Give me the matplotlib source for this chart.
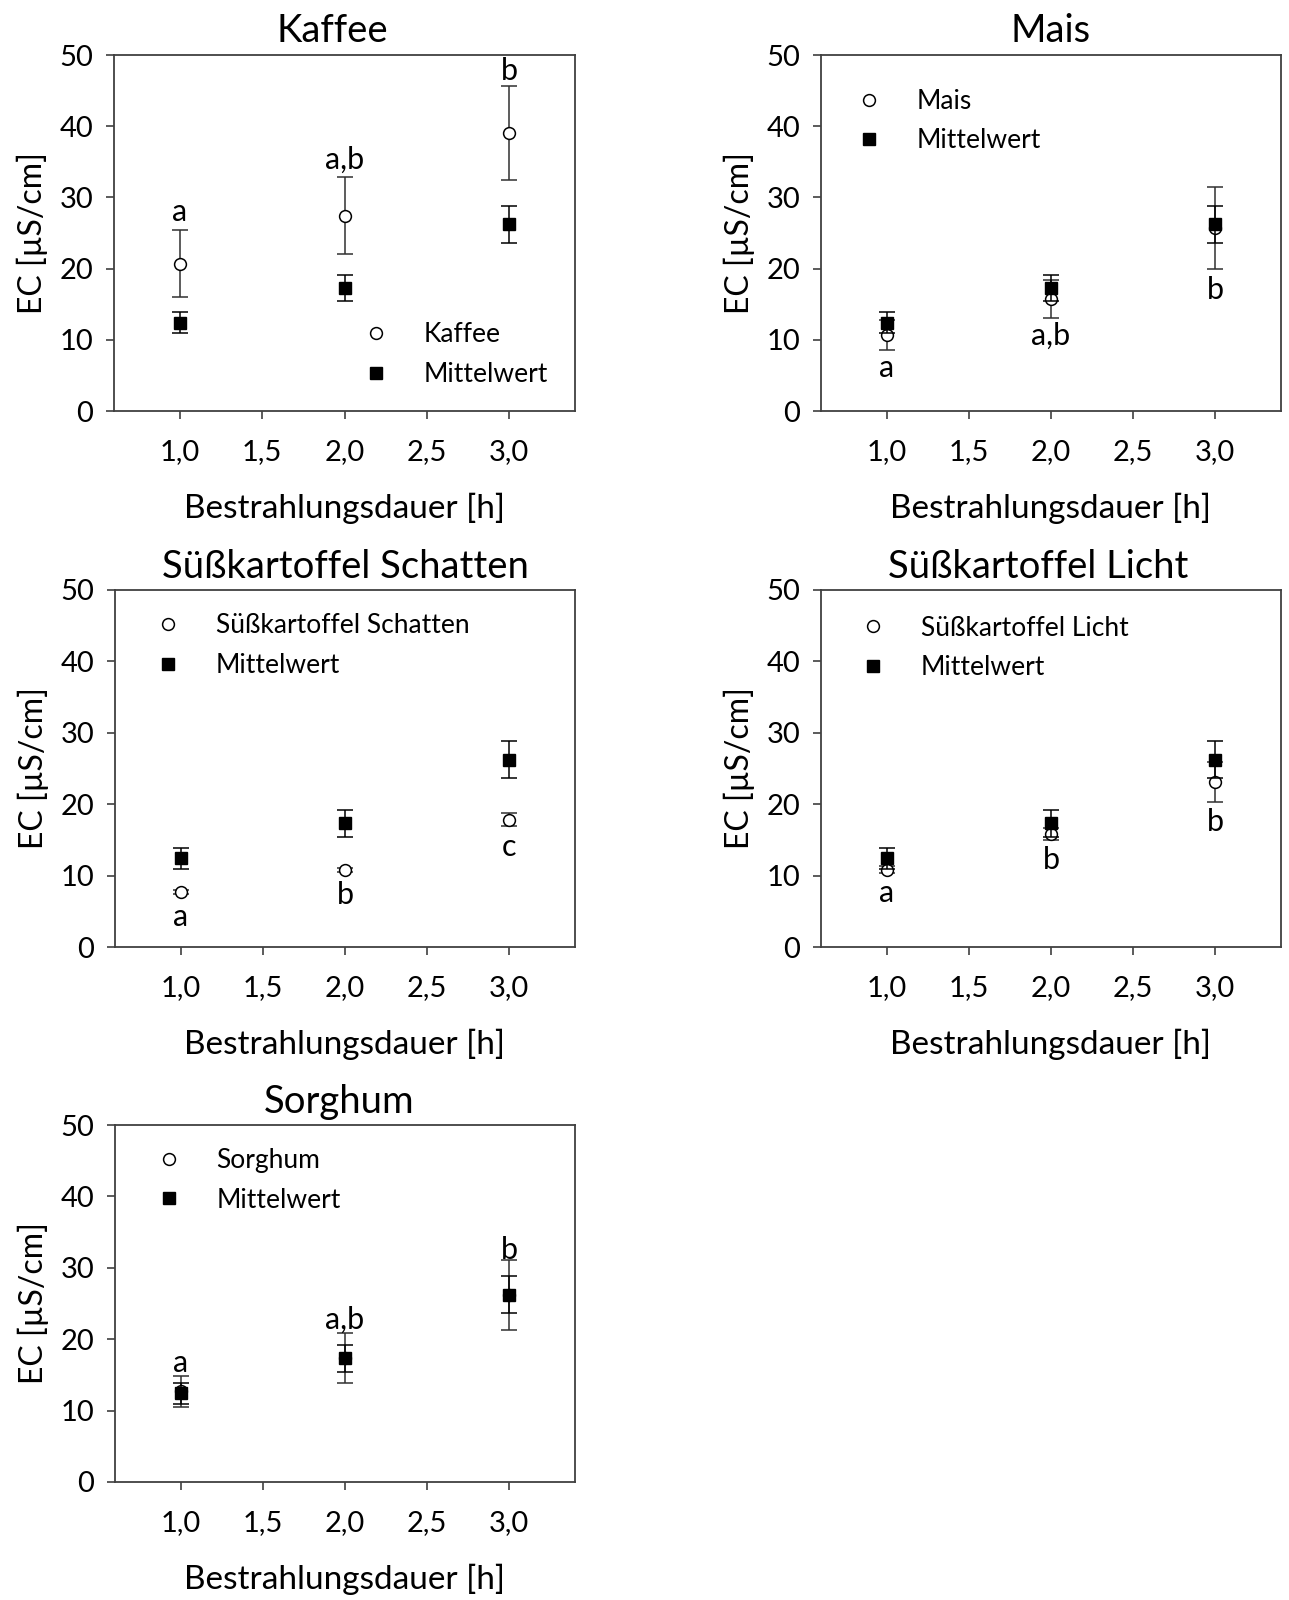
import matplotlib
matplotlib.use("Agg")
import matplotlib.pyplot as plt

plt.rcParams['font.family'] = ['Lato', 'DejaVu Sans']

# --- data ---
hours = [1.0, 2.0, 3.0]

mean_vals = [12.4, 17.3, 26.2]
mean_err = [1.5, 1.85, 2.6]

kaffee = [20.7, 27.4, 39.1]
kaffee_err = [4.7, 5.4, 6.6]
kaffee_letters = ["a", "a,b", "b"]
kaffee_letter_y = [28.0, 35.3, 47.7]

mais = [10.7, 15.7, 25.7]
mais_err = [2.1, 2.7, 5.8]
mais_letters = ["a", "a,b", "b"]
mais_letter_y = [6.0, 10.5, 17.0]

schatten = [7.7, 10.8, 17.8]
schatten_err = [0.3, 0.3, 0.9]
schatten_letters = ["a", "b", "c"]
schatten_letter_y = [4.2, 7.25, 14.0]

licht = [10.8, 15.8, 23.1]
licht_err = [0.5, 0.8, 2.8]
licht_letters = ["a", "b", "b"]
licht_letter_y = [7.5, 12.2, 17.5]

sorghum = [12.7, 17.4, 26.2]
sorghum_err = [2.2, 3.5, 4.9]
sorghum_letters = ["a", "a,b", "b"]
sorghum_letter_y = [16.6, 22.7, 32.5]

x_ticks = [1.0, 1.5, 2.0, 2.5, 3.0]
x_ticklabels = ["1,0", "1,5", "2,0", "2,5", "3,0"]
y_ticks = [0, 10, 20, 30, 40, 50]

W, H = 1289, 1600
fig = plt.figure(figsize=(W / 100, H / 100), dpi=100)

# axes boxes in pixels: left, top, right, bottom
boxes = {
    "Kaffee": (114, 55, 575, 411),
    "Mais": (821, 55, 1281, 411),
    "Süßkartoffel Schatten": (115, 590, 575, 947),
    "Süßkartoffel Licht": (821, 590, 1281, 947),
    "Sorghum": (115, 1125, 575, 1482),
}

# name, values, errors, letters, letter y, legend anchor (axes frac), title x
panels = [
    ("Kaffee", kaffee, kaffee_err, kaffee_letters, kaffee_letter_y, (0.566, 0.158), 0.474),
    ("Mais", mais, mais_err, mais_letters, mais_letter_y, (0.102, 0.814), 0.5),
    ("Süßkartoffel Schatten", schatten, schatten_err, schatten_letters, schatten_letter_y, (0.113, 0.844), 0.5),
    ("Süßkartoffel Licht", licht, licht_err, licht_letters, licht_letter_y, (0.111, 0.838), 0.472),
    ("Sorghum", sorghum, sorghum_err, sorghum_letters, sorghum_letter_y, (0.115, 0.845), 0.487),
]

spine_col = "#404040"

for name, vals, errs, letters, letter_y, leg_pos, title_x in panels:
    l, t, r, b = boxes[name]
    ax = fig.add_axes([l / W, 1 - b / H, (r - l) / W, (b - t) / H])

    eb1 = ax.errorbar(hours, vals, yerr=errs, fmt="o", ms=8.5, mfc="white", mec="black",
                      mew=1.1, ecolor="#303030", elinewidth=1.1, capsize=5.5, capthick=1.1,
                      zorder=3)
    eb2 = ax.errorbar(hours, mean_vals, yerr=mean_err, fmt="s", ms=8.5, mfc="black", mec="black",
                      ecolor="black", elinewidth=1.1, capsize=5.5, capthick=1.1,
                      zorder=4)

    for xv, txt, yv in zip(hours, letters, letter_y):
        ax.text(xv, yv, txt, ha="center", va="center", fontsize=22, zorder=5)

    ax.set_xlim(0.6, 3.4)
    ax.set_ylim(0, 50)
    ax.set_xticks(x_ticks)
    ax.set_xticklabels(x_ticklabels)
    ax.set_yticks(y_ticks)
    ax.tick_params(axis="both", direction="out", length=6, width=1.2, color=spine_col,
                   labelsize=21)
    ax.tick_params(axis="x", pad=14)
    ax.tick_params(axis="y", pad=9)
    for sp in ax.spines.values():
        sp.set_color(spine_col)
        sp.set_linewidth(1.3)

    ax.set_title(name, fontsize=27.5, pad=9, x=title_x)
    ax.set_xlabel("Bestrahlungsdauer [h]", fontsize=24, labelpad=20)
    ax.set_ylabel("EC [µS/cm]", fontsize=23, labelpad=8)

    hx, hy = leg_pos
    ax.legend([eb1[0], eb2[0]], [name, "Mittelwert"], loc="center left",
              bbox_to_anchor=(hx - 0.026, hy), bbox_transform=ax.transAxes,
              frameon=False, fontsize=19, handlelength=1.0, handletextpad=1.3,
              labelspacing=0.55, borderpad=0, borderaxespad=0, numpoints=1)

fig.savefig("out.png", dpi=100)
